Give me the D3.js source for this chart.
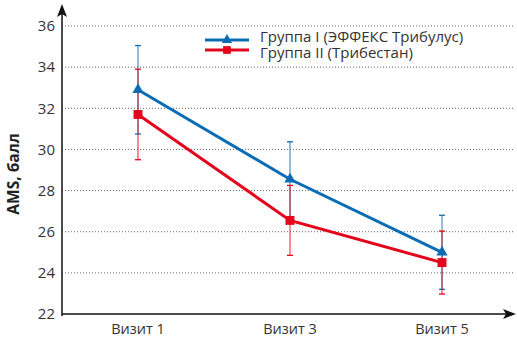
<!DOCTYPE html>
<html><head><meta charset="utf-8">
<script src="https://cdn.jsdelivr.net/npm/d3@7"></script>
<style>body{margin:0;background:#fff}svg{display:block;font-family:"Open Sans",sans-serif}</style>
</head><body><svg id="c" width="517" height="340"></svg>
<script>
const visits = ["Визит 1","Визит 3","Визит 5"];
const seriesNames = ["Группа I (ЭФФЕКС Трибулус)","Группа II (Трибестан)"];
const group1 = [32.9, 28.55, 25.0];
const group1Err = [2.15, 1.82, 1.8];
const group2 = [31.7, 26.55, 24.5];
const group2Err = [2.2, 1.7, 1.53];
const yTicks = [22,24,26,28,30,32,34,36];
const yLabel = "AMS, балл";
const colors = ["#0b6cb6","#e3051b"];

const svg = d3.select("#c");
const x0 = 62, y0 = 314;
const x = d3.scaleBand().domain(visits).range([x0, 518]);
const y = d3.scaleLinear().domain([22,36]).range([y0, 26]);

// grid
svg.append("g").selectAll("line").data(yTicks.filter(t=>t>22)).join("line")
  .attr("x1", x0).attr("x2", 515).attr("y1", d=>y(d)).attr("y2", d=>y(d))
  .attr("stroke","#666").attr("stroke-width",1).attr("stroke-dasharray","1,2");

// y tick labels
const yAxis = d3.axisLeft(y).tickValues(yTicks).tickSize(0).tickPadding(7);
const ga = svg.append("g").attr("transform",`translate(${x0},0)`).call(yAxis);
ga.select(".domain").remove();
ga.selectAll("text").attr("font-size",15).attr("fill","#333").attr("font-family","Open Sans");

// x labels
const xAxis = d3.axisBottom(x).tickSize(0).tickPadding(10);
const gx = svg.append("g").attr("transform",`translate(0,${y0})`).call(xAxis);
gx.select(".domain").remove();
gx.selectAll("text").attr("font-size",14.5).attr("fill","#333").attr("font-family","Open Sans");

// axes lines with arrows
svg.append("line").attr("x1",x0).attr("x2",x0).attr("y1",y0+2).attr("y2",8).attr("stroke","#111").attr("stroke-width",1.5);
svg.append("path").attr("d",`M${x0},4 L${x0-5},17 L${x0},14 L${x0+5},17 Z`).attr("fill","#111");
svg.append("line").attr("x1",x0).attr("x2",512).attr("y1",y0).attr("y2",y0).attr("stroke","#111").attr("stroke-width",1.5);
svg.append("path").attr("d",`M516,${y0} L503,${y0-5} L506,${y0} L503,${y0+5} Z`).attr("fill","#111");

// y label
svg.append("text").attr("transform",`translate(19,${(y0+26)/2+4}) rotate(-90)`)
  .attr("text-anchor","middle").attr("font-size",15.5).attr("font-weight","bold").attr("fill","#222")
  .attr("font-family","Open Sans").text(yLabel);

const cx = d => x(d) + x.bandwidth()/2;
const data = [
  {vals: group1, errs: group1Err, color: colors[0], marker:"triangle"},
  {vals: group2, errs: group2Err, color: colors[1], marker:"square"}
];
// error bars
data.forEach(s=>{
  const g = svg.append("g");
  visits.forEach((v,i)=>{
    const X = cx(v), top = y(s.vals[i]+s.errs[i]), bot = y(s.vals[i]-s.errs[i]);
    g.append("line").attr("x1",X).attr("x2",X).attr("y1",top).attr("y2",bot).attr("stroke",s.color).attr("stroke-width",1.5).attr("stroke-opacity",0.6);
    [top,bot].forEach(yy=>g.append("line").attr("x1",X-3).attr("x2",X+3).attr("y1",yy).attr("y2",yy).attr("stroke",s.color).attr("stroke-width",1.3));
  });
});
// lines and markers
const line = d3.line().x((d,i)=>cx(visits[i])).y(d=>y(d));
data.forEach(s=>{
  svg.append("path").attr("d",line(s.vals)).attr("fill","none").attr("stroke",s.color).attr("stroke-width",3);
  const sym = s.marker==="triangle" ? d3.symbolTriangle : d3.symbolSquare;
  svg.append("g").selectAll("path").data(s.vals).join("path")
    .attr("transform",(d,i)=>`translate(${cx(visits[i])},${y(d)})`)
    .attr("d",d3.symbol().type(sym).size(s.marker==="triangle"?55:80)).attr("fill",s.color);
});

// legend
const lg = svg.append("g");
data.forEach((s,i)=>{
  const yy = 40 + i*10;
  lg.append("line").attr("x1",205).attr("x2",249).attr("y1",yy).attr("y2",yy).attr("stroke",s.color).attr("stroke-width",3);
  const sym = s.marker==="triangle" ? d3.symbolTriangle : d3.symbolSquare;
  lg.append("path").attr("transform",`translate(227,${yy})`).attr("d",d3.symbol().type(sym).size(s.marker==="triangle"?45:60)).attr("fill",s.color);
  lg.append("text").attr("x",260).attr("y",41.5 + i*16).attr("font-size",15).attr("fill","#333").attr("font-family","Open Sans").text(seriesNames[i]);
});
</script></body></html>
